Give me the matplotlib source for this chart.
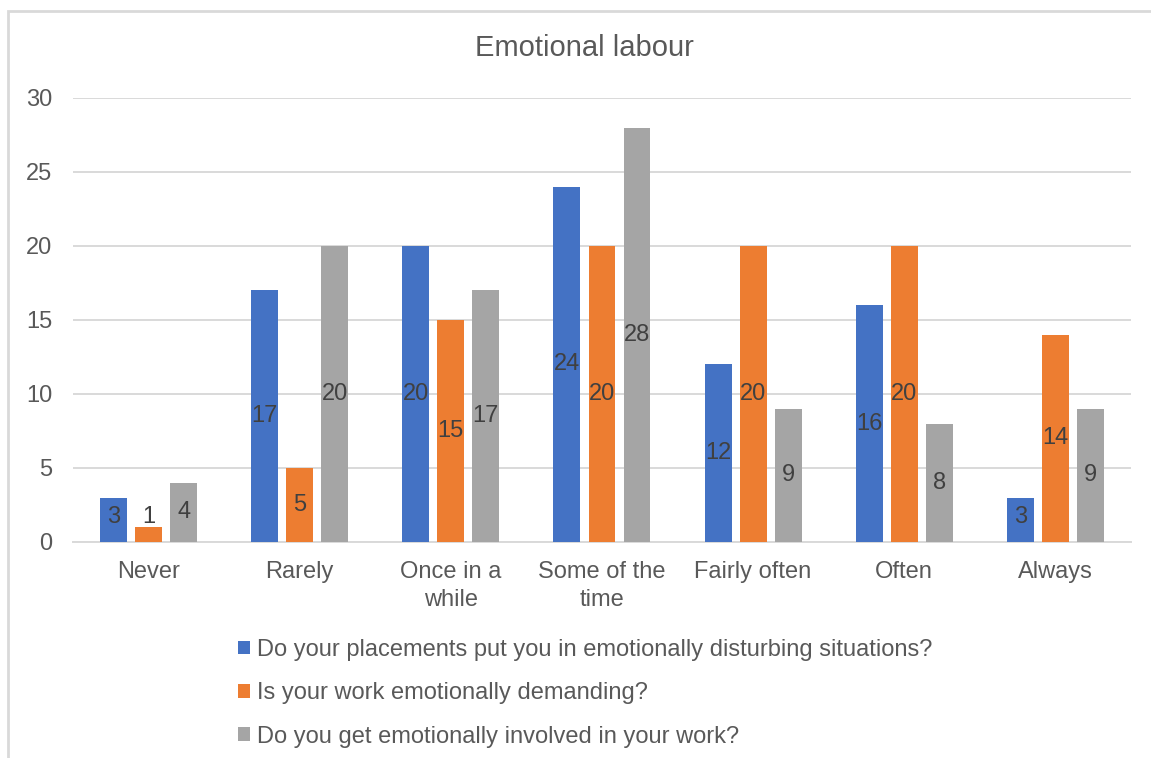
import matplotlib.pyplot as plt
from matplotlib.patches import Rectangle, Patch
import numpy as np

plt.rcParams['font.family'] = ['Liberation Sans', 'DejaVu Sans']

categories = ["Never", "Rarely", "Once in a\nwhile", "Some of the\ntime",
              "Fairly often", "Often", "Always"]
series_labels = [
    "Do your placements put you in emotionally disturbing situations?",
    "Is your work emotionally demanding?",
    "Do you get emotionally involved in your work?",
]
placements = [3, 17, 20, 24, 12, 16, 3]
demanding = [1, 5, 15, 20, 20, 20, 14]
involved = [4, 20, 17, 28, 9, 8, 9]
colors = ["#4472C4", "#ED7D31", "#A5A5A5"]

text_color = "#595959"
grid_color = "#D9D9D9"

fig = plt.figure(figsize=(11.51, 7.58), dpi=100)
ax = fig.add_axes([0.0634, 0.2850, 0.9192, 0.5858])

x = np.arange(len(categories))
width = 0.178
step = 0.232
for i, (vals, color) in enumerate(zip([placements, demanding, involved], colors)):
    pos = x + (i - 1) * step
    ax.bar(pos, vals, width, color=color, zorder=3)
    for p, v in zip(pos, vals):
        ax.text(p, max(v / 2, 1.7), str(v), ha="center", va="center",
                fontsize=17, color="#404040", zorder=4)

ax.set_xlim(-0.5, len(categories) - 0.5)
ax.set_ylim(0, 30)
ax.set_yticks(range(0, 31, 5))
ax.yaxis.grid(True, color=grid_color, linewidth=1.4, zorder=0)
ax.set_xticks(x)
ax.set_xticklabels(categories, linespacing=1.35)
ax.tick_params(axis="both", length=0, labelsize=17, colors=text_color)
ax.tick_params(axis="x", pad=13.5)
ax.tick_params(axis="y", pad=15)
for s in ["top", "right", "left"]:
    ax.spines[s].set_visible(False)
ax.spines["bottom"].set_color(grid_color)
ax.spines["bottom"].set_linewidth(1.4)

fig.text(584 / 1151, 1 - 48 / 758, "Emotional labour", ha="center", va="center",
         fontsize=21, color=text_color)

handles = [Patch(facecolor=c) for c in colors]
fig.legend(handles, series_labels, loc="upper left",
           bbox_to_anchor=(238 / 1151, 1 - 639 / 758), frameon=False,
           fontsize=17, labelcolor=text_color, borderpad=0, borderaxespad=0,
           handlelength=0.5, handleheight=0.5, handletextpad=0.3,
           labelspacing=0.9)

fig.patches.append(Rectangle((8 / 1151, -0.1), 1.2, 1 - 11 / 758 + 0.1,
                             transform=fig.transFigure, fill=False,
                             edgecolor=grid_color, linewidth=2))

fig.savefig("out.png", dpi=100)
